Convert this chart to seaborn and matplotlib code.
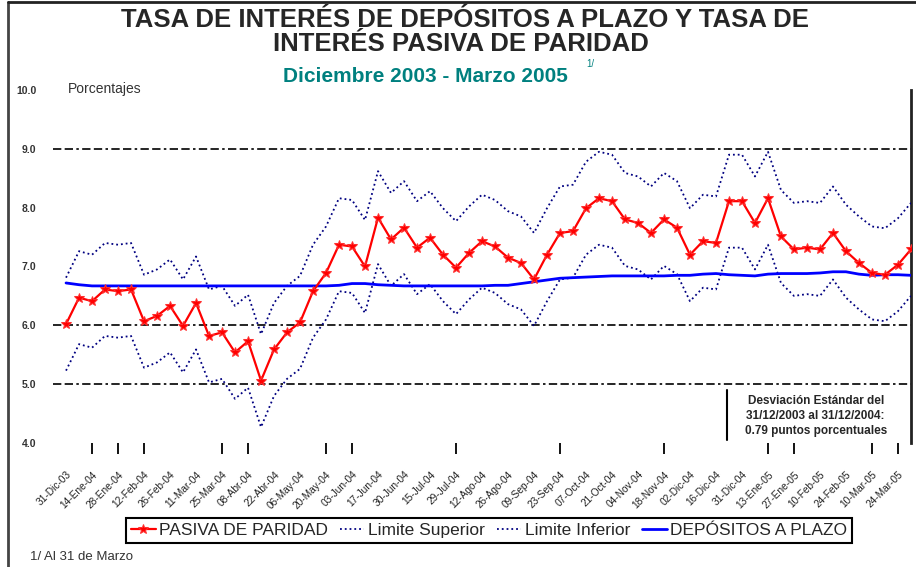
import matplotlib
matplotlib.use("Agg")
import matplotlib.pyplot as plt
from matplotlib.lines import Line2D
import numpy as np
import pandas as pd
import seaborn as sns

# etiquetas de fecha (cada dos semanas)
fechas = ["31-Dic-03", "14-Ene-04", "28-Ene-04", "12-Feb-04", "26-Feb-04", "11-Mar-04",
          "25-Mar-04", "08-Abr-04", "22-Abr-04", "06-May-04", "20-May-04", "03-Jun-04",
          "17-Jun-04", "30-Jun-04", "15-Jul-04", "29-Jul-04", "12-Ago-04", "26-Ago-04",
          "09-Sep-04", "23-Sep-04", "07-Oct-04", "21-Oct-04", "04-Nov-04", "18-Nov-04",
          "02-Dic-04", "16-Dic-04", "31-Dic-04", "13-Ene-05", "27-Ene-05", "10-Feb-05",
          "24-Feb-05", "10-Mar-05", "24-Mar-05"]

# tasa pasiva de paridad (semanal)
pasiva = [6.02, 6.47, 6.41, 6.61, 6.58, 6.61, 6.07, 6.16, 6.33, 5.99, 6.38, 5.82, 5.88,
          5.54, 5.73, 5.06, 5.59, 5.88, 6.05, 6.58, 6.89, 7.37, 7.34, 7.00, 7.83, 7.46,
          7.66, 7.32, 7.49, 7.20, 6.98, 7.23, 7.43, 7.34, 7.15, 7.06, 6.78, 7.20, 7.57,
          7.60, 7.99, 8.16, 8.11, 7.80, 7.74, 7.57, 7.80, 7.66, 7.20, 7.43, 7.40, 8.11,
          8.11, 7.74, 8.16, 7.51, 7.29, 7.32, 7.29, 7.57, 7.26, 7.06, 6.89, 6.86, 7.03,
          7.29]

lim_sup = [6.81, 7.26, 7.20, 7.40, 7.37, 7.40, 6.86, 6.95, 7.12, 6.78, 7.17, 6.61, 6.67,
           6.33, 6.52, 5.85, 6.38, 6.67, 6.84, 7.37, 7.68, 8.16, 8.13, 7.79, 8.62, 8.25,
           8.45, 8.11, 8.28, 7.99, 7.77, 8.02, 8.22, 8.13, 7.94, 7.85, 7.57, 7.99, 8.36,
           8.39, 8.78, 8.95, 8.90, 8.59, 8.53, 8.36, 8.59, 8.45, 7.99, 8.22, 8.19, 8.90,
           8.90, 8.53, 8.95, 8.30, 8.08, 8.11, 8.08, 8.36, 8.05, 7.85, 7.68, 7.65, 7.82,
           8.08]

lim_inf = [5.23, 5.68, 5.62, 5.82, 5.79, 5.82, 5.28, 5.37, 5.54, 5.20, 5.59, 5.03, 5.09,
           4.75, 4.94, 4.27, 4.80, 5.09, 5.26, 5.79, 6.10, 6.58, 6.55, 6.21, 7.04, 6.67,
           6.87, 6.53, 6.70, 6.41, 6.19, 6.44, 6.64, 6.55, 6.36, 6.27, 5.99, 6.41, 6.78,
           6.81, 7.20, 7.37, 7.32, 7.01, 6.95, 6.78, 7.01, 6.87, 6.41, 6.64, 6.61, 7.32,
           7.32, 6.95, 7.37, 6.72, 6.50, 6.53, 6.50, 6.78, 6.47, 6.27, 6.10, 6.07, 6.24,
           6.50]

depositos = [6.72, 6.69, 6.67, 6.67, 6.67, 6.67, 6.67, 6.67, 6.67, 6.67, 6.67, 6.67, 6.67,
             6.67, 6.67, 6.67, 6.67, 6.67, 6.67, 6.67, 6.67, 6.68, 6.71, 6.71, 6.69, 6.68,
             6.67, 6.67, 6.67, 6.67, 6.67, 6.67, 6.67, 6.68, 6.68, 6.71, 6.74, 6.77, 6.80,
             6.81, 6.82, 6.83, 6.84, 6.84, 6.84, 6.84, 6.84, 6.85, 6.85, 6.87, 6.88, 6.86,
             6.85, 6.84, 6.87, 6.88, 6.88, 6.88, 6.89, 6.91, 6.91, 6.87, 6.85, 6.86, 6.86,
             6.85]

# semanas con marca en el eje
marcas = [2, 4, 6, 12, 14, 20, 22, 30, 38, 46, 54, 56, 62, 64]

df = pd.DataFrame({"semana": np.arange(len(pasiva)), "pasiva": pasiva,
                   "sup": lim_sup, "inf": lim_inf, "dep": depositos})

sns.set_style("white")
plt.rcParams['font.family'] = ['Liberation Sans', 'DejaVu Sans']

fig = plt.figure(figsize=(9.16, 5.67), dpi=100)
ax = fig.add_axes([0.0579, 0.2187, 0.9366, 0.6226])

# lineas de referencia
for v in [5, 6, 9]:
    ax.axhline(v, color="black", lw=1.2, dashes=(5, 2, 5, 2, 1.5, 2), zorder=1)

sns.lineplot(data=df, x="semana", y="pasiva", ax=ax, color="#ff0000", lw=1.6,
             marker="*", markersize=7, markeredgecolor="#ff3030",
             label="PASIVA DE PARIDAD", zorder=4)
sns.lineplot(data=df, x="semana", y="sup", ax=ax, color="#000080", lw=1.3,
             linestyle=":", label="Limite Superior", zorder=3)
sns.lineplot(data=df, x="semana", y="inf", ax=ax, color="#000080", lw=1.3,
             linestyle=":", label="Limite Inferior", zorder=3)
sns.lineplot(data=df, x="semana", y="dep", ax=ax, color="#0000ff", lw=2,
             label="DEPÓSITOS A PLAZO", zorder=3)

ax.set_xlim(-1, 65)
ax.set_ylim(4, 10)
ax.set_xlabel("")
ax.set_ylabel("")

ax.set_yticks([4, 5, 6, 7, 8, 9, 10])
ax.set_yticklabels([f"{v:.1f}" for v in [4, 5, 6, 7, 8, 9, 10]],
                   fontsize=7.5, fontweight="bold", color="#333333")
ax.tick_params(axis="y", length=0, pad=12)

ax.xaxis.remove_overlapping_locs = False
ax.set_xticks(np.arange(0, 65, 2))
ax.set_xticklabels(fechas, rotation=45, ha="right", rotation_mode="anchor",
                   fontsize=7.3, color="#222222")
ax.tick_params(axis="x", which="major", length=0, pad=19)
ax.set_xticks(marcas, minor=True)
ax.tick_params(axis="x", which="minor", bottom=True, length=8, width=1.3,
               color="black", direction="out")

for s in ["left", "top", "bottom"]:
    ax.spines[s].set_visible(False)
ax.spines["right"].set_color("#222222")
ax.spines["right"].set_linewidth(2)

ax.legend(loc="center", bbox_to_anchor=(0.534, 0.064), bbox_transform=fig.transFigure,
          ncol=4, frameon=True, fancybox=False, edgecolor="black", fontsize=12.5,
          handlelength=1.4, handletextpad=0.2, columnspacing=0.7, borderpad=0.3,
          framealpha=1)
ax.get_legend().get_frame().set_linewidth(1.5)

# cuadro de desviacion estandar
ax.text(0.889, 0.0765,
        "Desviación Estándar del\n31/12/2003 al 31/12/2004:\n0.79 puntos porcentuales",
        transform=ax.transAxes, ha="center", va="center", fontsize=8.5,
        fontweight="bold", linespacing=1.3)
fig.add_artist(Line2D([727 / 916, 727 / 916], [1 - 390 / 567, 1 - 440 / 567],
                      color="black", lw=1.5))

# titulos
fig.text(0.508, 0.953, "TASA DE INTERÉS DE DEPÓSITOS A PLAZO Y TASA DE",
         ha="center", va="baseline", fontsize=18.5, fontweight="bold")
fig.text(0.503, 0.9106, "INTERÉS PASIVA DE PARIDAD",
         ha="center", va="baseline", fontsize=18.5, fontweight="bold")
fig.text(0.464, 0.856, "Diciembre 2003 - Marzo 2005", ha="center", va="baseline",
         fontsize=15, fontweight="bold", color="#00807f")
fig.text(0.645, 0.887, "1/", ha="center", va="center", fontsize=7, color="#00807f")
fig.text(68 / 916, 0.8365, "Porcentajes", ha="left", va="baseline", fontsize=10,
         color="#333333")
fig.text(30 / 916, 1 - 557 / 567, "1/ Al 31 de Marzo", ha="left", va="center",
         fontsize=9.5, color="#333333")

# marco
fig.add_artist(Line2D([8 / 916, 8 / 916], [0, 0.997], color="#444444", lw=2))
fig.add_artist(Line2D([8 / 916, 1], [0.997, 0.997], color="#222222", lw=2))

fig.savefig("out.png", dpi=100)
